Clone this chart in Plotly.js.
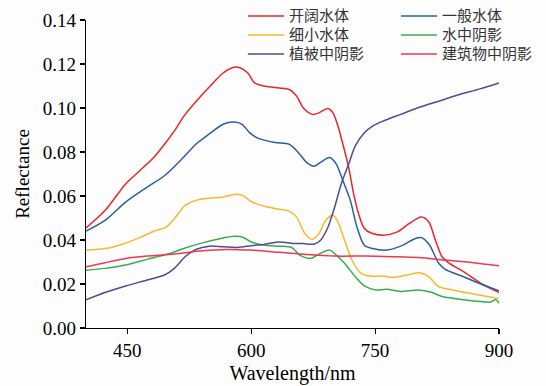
<!DOCTYPE html>
<html>
<head>
<meta charset="utf-8">
<script src="https://cdn.plot.ly/plotly-3.0.1.min.js"></script>
<style>html,body{margin:0;padding:0;background:#fdfdfd;}#chart{width:546px;height:386px;}</style>
</head>
<body>
<div id="chart"></div>
<script>
// Series names
const names = ["开阔水体", "一般水体", "细小水体", "水中阴影", "植被中阴影", "建筑物中阴影"];
const colors = ["#e8262b", "#2c5f9a", "#f7b82d", "#37ae4c", "#4e4d94", "#e83a52"];

// 开阔水体
const openX = [400,423,448,465,482,495,507,520,537,554,566,579,587,596,604,617,634,646,655,663,674,682,693,699,705,711,718,724,730,737,745,760,777,791,806,815,823,831,840,857,878,900];
const openY = [0.0455,0.0534,0.0655,0.0715,0.0775,0.0835,0.0896,0.0971,0.1046,0.1114,0.1159,0.1185,0.1182,0.1159,0.1114,0.1099,0.1091,0.1084,0.1054,0.1001,0.0971,0.0978,0.0998,0.0978,0.0918,0.0835,0.0730,0.0610,0.0519,0.0452,0.0432,0.0422,0.0437,0.0474,0.0504,0.0482,0.0399,0.0324,0.0294,0.0256,0.0203,0.0161];

// 一般水体
const genX = [400,423,448,474,495,516,533,549,566,579,589,598,608,629,646,657,667,676,684,695,703,711,720,728,737,747,764,781,798,806,816,827,835,857,878,900];
const genY = [0.0440,0.0489,0.0572,0.0640,0.0692,0.0768,0.0835,0.0881,0.0926,0.0936,0.0926,0.0888,0.0863,0.0843,0.0835,0.0798,0.0753,0.0735,0.0753,0.0775,0.0745,0.0670,0.0580,0.0459,0.0376,0.0361,0.0354,0.0372,0.0406,0.0411,0.0376,0.0294,0.0266,0.0233,0.0200,0.0169];

// 细小水体
const smallX = [400,423,444,465,482,497,507,520,533,549,566,579,589,600,617,634,646,655,665,674,682,690,699,705,713,722,733,743,760,772,789,804,815,827,844,869,900];
const smallY = [0.0354,0.0361,0.0381,0.0411,0.0440,0.0459,0.0497,0.0557,0.0580,0.0590,0.0595,0.0607,0.0604,0.0575,0.0552,0.0540,0.0531,0.0504,0.0429,0.0403,0.0429,0.0489,0.0512,0.0482,0.0399,0.0309,0.0248,0.0236,0.0236,0.0230,0.0241,0.0251,0.0233,0.0188,0.0173,0.0155,0.0134];

// 水中阴影
const shadowWX = [400,423,448,474,499,520,541,562,579,589,600,617,634,649,659,672,682,695,703,713,726,737,751,764,781,802,819,831,852,878,890,896,900];
const shadowWY = [0.0263,0.0271,0.0286,0.0312,0.0336,0.0364,0.0387,0.0406,0.0417,0.0414,0.0391,0.0376,0.0372,0.0366,0.0331,0.0316,0.0336,0.0354,0.0331,0.0294,0.0233,0.0191,0.0173,0.0176,0.0166,0.0173,0.0161,0.0143,0.0131,0.0120,0.0118,0.0130,0.0113];

// 植被中阴影
const vegX = [400,423,448,474,495,507,520,533,549,566,583,600,617,634,651,663,676,684,693,701,709,718,726,737,747,760,781,802,827,852,878,900];
const vegY = [0.0128,0.0161,0.0191,0.0218,0.0241,0.0271,0.0324,0.0357,0.0372,0.0369,0.0366,0.0374,0.0381,0.0391,0.0384,0.0384,0.0381,0.0399,0.0459,0.0549,0.0655,0.0745,0.0828,0.0888,0.0918,0.0941,0.0971,0.1001,0.1031,0.1061,0.1088,0.1114];

// 建筑物中阴影
const bldX = [400,423,448,474,507,541,570,600,634,667,701,739,772,802,835,869,900];
const bldY = [0.0278,0.0297,0.0316,0.0327,0.0336,0.0351,0.0357,0.0354,0.0344,0.0334,0.0327,0.0327,0.0324,0.0320,0.0309,0.0297,0.0283];

const xTicks = [450, 600, 750, 900];
const yTicks = [0, 0.02, 0.04, 0.06, 0.08, 0.10, 0.12, 0.14];
const yTickText = ["0.00","0.02","0.04","0.06","0.08","0.10","0.12","0.14"];

const xs = [openX, genX, smallX, shadowWX, vegX, bldX];
const ys = [openY, genY, smallY, shadowWY, vegY, bldY];

const traces = names.map((n, i) => ({
  x: xs[i], y: ys[i], type: 'scatter', mode: 'lines',
  name: '<span style="font-size:15px">' + n + '</span>',
  line: {color: colors[i], width: 1.5, shape: 'spline', smoothing: 0.8}
}));

const serif = 'Liberation Serif';

const layout = {
  width: 546, height: 386,
  margin: {l: 86, r: 47, t: 20, b: 58, autoexpand: false},
  paper_bgcolor: '#fdfdfd', plot_bgcolor: '#fdfdfd',
  font: {family: serif, size: 19, color: '#000'},
  showlegend: true,
  legend: {
    orientation: 'h', x: 0.38, xanchor: 'left', y: 1.06, yanchor: 'top',
    entrywidth: 102, entrywidthmode: 'pixels',
    bgcolor: 'rgba(0,0,0,0)', borderwidth: 0,
    font: {family: 'Noto Sans CJK SC', size: 12, color: '#333'},
    tracegroupgap: 0, itemwidth: 36
  },
  xaxis: {
    range: [400, 900], tickvals: xTicks, ticktext: xTicks.map(String),
    showgrid: false, zeroline: false, showline: true, linecolor: '#000', linewidth: 1.2,
    ticks: 'outside', ticklen: 5, tickcolor: '#000', tickwidth: 1.2,
    tickfont: {family: serif, size: 19, color: '#000'},
    title: {text: 'Wavelength/nm', font: {family: serif, size: 20, color: '#000'}, standoff: 6}
  },
  yaxis: {
    range: [0, 0.14], tickvals: yTicks, ticktext: yTickText,
    showgrid: false, zeroline: false, showline: true, linecolor: '#000', linewidth: 1.2,
    ticks: 'outside', ticklen: 5, tickcolor: '#000', tickwidth: 1.2,
    tickfont: {family: serif, size: 19, color: '#000'},
    title: {text: 'Reflectance', font: {family: serif, size: 19, color: '#000'}, standoff: 8}
  }
};

Plotly.newPlot('chart', traces, layout, {staticPlot: true, displayModeBar: false});
</script>
</body>
</html>
